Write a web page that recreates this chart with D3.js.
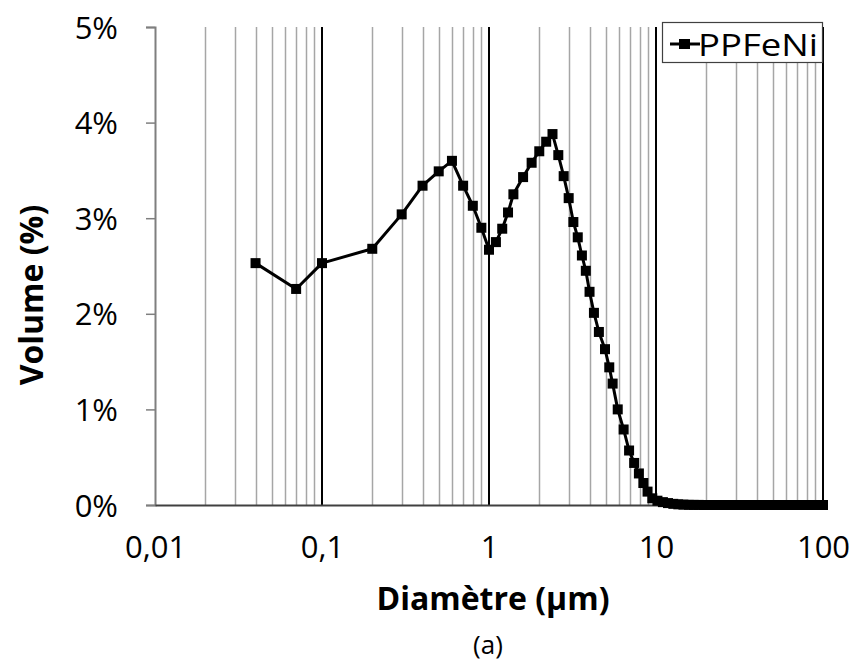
<!DOCTYPE html>
<html>
<head>
<meta charset="utf-8">
<script src="https://cdn.jsdelivr.net/npm/d3@7/dist/d3.min.js"></script>
<style>
  html, body { margin: 0; padding: 0; background: #fff; }
  svg { display: block; font-family: "Open Sans", "Noto Sans", sans-serif; }
</style>
</head>
<body>
<svg id="chart" width="855" height="665"></svg>
<script>
// Diameter (µm)
const diameters = [
  0.04, 0.07, 0.1, 0.2, 0.3, 0.4, 0.5, 0.6, 0.7, 0.8, 0.9,
  1.0, 1.1, 1.2, 1.3, 1.4, 1.6, 1.8, 2.0, 2.2, 2.4, 2.6, 2.8,
  3.0, 3.2, 3.4, 3.6, 3.8, 4.0, 4.25, 4.55, 4.95, 5.25, 5.5, 5.9,
  6.4, 6.9, 7.4, 7.9, 8.4, 8.9, 9.5, 10.2,
  11, 11.8, 12.7, 13.6, 14.6, 15.7, 16.8, 18, 19.3, 20.7, 22.2, 23.8,
  25.5, 27.4, 29.4, 31.5, 33.8, 36.2, 38.8, 41.6, 44.6, 47.8, 51.3,
  55, 59, 63.2, 67.8, 72.7, 78, 83.6, 89.6, 96, 100
];
// Volume (%)
const volumes = [
  2.53, 2.26, 2.53, 2.68, 3.04, 3.34, 3.49, 3.60, 3.34, 3.13, 2.90,
  2.67, 2.75, 2.89, 3.06, 3.25, 3.43, 3.58, 3.70, 3.80, 3.88, 3.66, 3.44,
  3.21, 2.96, 2.80, 2.61, 2.45, 2.23, 2.01, 1.81, 1.63, 1.44, 1.27, 1.00,
  0.79, 0.57, 0.44, 0.33, 0.23, 0.14, 0.07, 0.045,
  0.03, 0.02, 0.012, 0.007, 0.004, 0.002, 0.001, 0.001, 0, 0, 0, 0,
  0, 0, 0, 0, 0, 0, 0, 0, 0, 0, 0,
  0, 0, 0, 0, 0, 0, 0, 0, 0, 0
];
const xTickValues = [0.01, 0.1, 1, 10, 100];
const xTickLabels = ["0,01", "0,1", "1", "10", "100"];
const yTickValues = [0, 1, 2, 3, 4, 5];
const yTickLabels = ["0%", "1%", "2%", "3%", "4%", "5%"];
const seriesName = "PPFeNi";
const xTitle = "Diamètre (µm)";
const yTitle = "Volume (%)";
const caption = "(a)";

const svg = d3.select("#chart");
const mLeft = 155, mRight = 823, mTop = 27, mBottom = 505;
const FONT = "'Open Sans', 'Noto Sans', sans-serif";

const x = d3.scaleLog().domain([0.01, 100]).range([mLeft, mRight]);
const y = d3.scaleLinear().domain([0, 5]).range([mBottom, mTop]);

// Gridlines (minor + major)
const minor = [];
const major = [0.1, 1, 10, 100];
for (let e = -2; e < 2; e++) {
  const base = Math.pow(10, e);
  for (let k = 2; k <= 9; k++) minor.push(+(k * base).toPrecision(3));
}

svg.append("g").selectAll("line").data(minor).join("line")
  .attr("x1", d => Math.round(x(d)) + 0.5).attr("x2", d => Math.round(x(d)) + 0.5)
  .attr("y1", y(5)).attr("y2", y(0))
  .attr("stroke", "#a6a6a6").attr("stroke-width", 1.5);

svg.append("g").selectAll("line").data(major).join("line")
  .attr("x1", d => x(d)).attr("x2", d => x(d))
  .attr("y1", y(5)).attr("y2", y(0))
  .attr("stroke", "#000").attr("stroke-width", 2);

// Y axis
const yAxis = d3.axisLeft(y).tickValues(yTickValues)
  .tickFormat((d, i) => yTickLabels[i]).tickSize(9).tickPadding(28);
const gy = svg.append("g").attr("transform", `translate(${mLeft},0)`).call(yAxis);
gy.select(".domain").attr("stroke", "#7f7f7f").attr("stroke-width", 2);
gy.selectAll(".tick line").attr("stroke", "#7f7f7f").attr("stroke-width", 1.5);
gy.selectAll(".tick text").attr("font-size", 31).attr("fill", "#000")
  .attr("font-family", FONT).attr("dy", "0.36em");

// X axis
const xAxis = d3.axisBottom(x).tickValues(xTickValues)
  .tickFormat((d, i) => xTickLabels[i]).tickSize(0).tickPadding(31);
const gx = svg.append("g").attr("transform", `translate(0,${mBottom})`).call(xAxis);
gx.select(".domain").attr("stroke", "#404040").attr("stroke-width", 2);
gx.selectAll(".tick text").attr("font-size", 31).attr("fill", "#000")
  .attr("font-family", FONT);

// Series
const data = diameters.map((d, i) => ({ x: d, y: volumes[i] }));
svg.append("path").datum(data)
  .attr("fill", "none").attr("stroke", "#000").attr("stroke-width", 3)
  .attr("stroke-linejoin", "round")
  .attr("d", d3.line().x(d => x(d.x)).y(d => y(d.y)));

const ms = 10;
svg.append("g").selectAll("rect").data(data).join("rect")
  .attr("x", d => x(d.x) - ms / 2).attr("y", d => y(d.y) - ms / 2)
  .attr("width", ms).attr("height", ms).attr("fill", "#000");

// Legend
const lg = svg.append("g");
lg.append("rect").attr("x", 662.5).attr("y", 22.5).attr("width", 160).attr("height", 40)
  .attr("fill", "#fff").attr("stroke", "#404040").attr("stroke-width", 1.2);
lg.append("line").attr("x1", 670).attr("x2", 700).attr("y1", 44).attr("y2", 44)
  .attr("stroke", "#000").attr("stroke-width", 3);
lg.append("rect").attr("x", 679).attr("y", 39).attr("width", 11).attr("height", 10).attr("fill", "#000");
lg.append("text").attr("x", 698).attr("y", 56).attr("font-size", 31).attr("fill", "#000")
  .attr("textLength", 120).attr("lengthAdjust", "spacingAndGlyphs")
  .text(seriesName);

// Titles
svg.append("text").attr("x", 493).attr("y", 610).attr("text-anchor", "middle")
  .attr("font-size", 32).attr("font-weight", "bold").text(xTitle);
svg.append("text").attr("transform", `translate(43,295) rotate(-90)`)
  .attr("text-anchor", "middle").attr("font-size", 32).attr("font-weight", "bold").text(yTitle);
svg.append("text").attr("x", 488).attr("y", 654).attr("text-anchor", "middle")
  .attr("font-size", 26).text(caption);
</script>
</body>
</html>
